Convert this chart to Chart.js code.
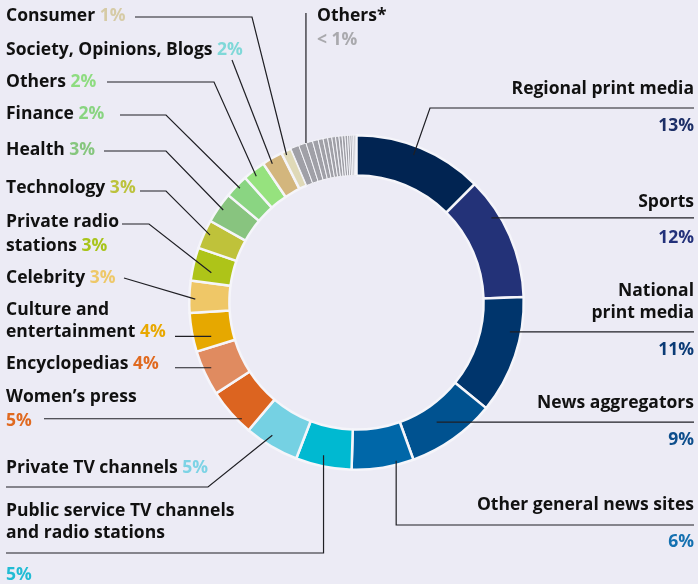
<!DOCTYPE html>
<html><head><meta charset="utf-8">
<script src="https://cdn.jsdelivr.net/npm/chart.js@4"></script>
<style>
html,body{margin:0;padding:0;background:#ecebf5;}
#wrap{width:698px;height:584px;position:relative;}
</style>
</head><body><div id="wrap"><canvas id="c"></canvas></div>
<script>
// ---- DATA ----
const categories = ["Regional print media","Sports","National print media","News aggregators","Other general news sites","Public service TV channels and radio stations","Private TV channels","Women’s press","Encyclopedias","Culture and entertainment","Celebrity","Private radio stations","Technology","Health","Finance","Others","Society, Opinions, Blogs","Consumer"];
const shares = [12.5, 12.0, 11.4, 8.6, 6.0, 5.4, 5.3, 4.7, 4.4, 3.75, 3.1, 3.2, 2.8, 3.0, 2.3, 2.2, 2.0, 1.0];
const percentLabels = ["13%","12%","11%","9%","6%","5%","5%","5%","4%","4%","3%","3%","3%","3%","2%","2%","2%","1%"];
const otherCategory = "Others*";
const otherShares = [0.8, 0.72, 0.65, 0.55, 0.48, 0.44, 0.4, 0.36, 0.33, 0.3, 0.28, 0.25, 0.22, 0.2, 0.17, 0.14, 0.12];
const otherLabel = "< 1%";

// ---- STYLE ----
const sliceColors = ["#012452","#233278","#00356c","#005290","#0067a8","#00b9d1","#75d1e3","#dc6420","#e08b60","#e6a800","#efc767","#aec418","#bfc23a","#88c47f","#8ad582","#96e27e","#d3b67d","#dfd9b7"];
const grayColor = "#a0a0a7";
const pctColors = ["#1c2e66","#23317a","#0b3b76","#0d4e8c","#1470b0","#22bcd4","#7dd3e5","#e06a20","#e06a20","#e8a800","#eec868","#a8c41a","#bcc23c","#86c67e","#88d480","#8edc80","#7fd8d8","#d6cba6"];
const otherPctColor = "#a9a9ad";
const TXT = "#111111";
const FONT = "bold 17.5px 'Open Sans'";

const allLabels = categories.concat(otherShares.map(() => otherCategory));
const allValues = shares.concat(otherShares);
const allColors = sliceColors.concat(otherShares.map(() => grayColor));
const borderWidths = shares.map(() => 2.5).concat(otherShares.map(() => 1));

// label layout: lines of text parts; leader: list of points (null = take anchor coord), anchor {i,t,rf}
const P = (i) => [percentLabels[i], pctColors[i]];
const annotations = [
  {lines:[{x:6,y:16,a:"left",parts:[["Consumer ",TXT],P(17)]}], pts:[[135,17],[252,17]], an:{i:17,t:0.36,rf:0.976}},
  {lines:[{x:317,y:16,a:"left",parts:[["Others*",TXT]]},{x:317,y:40,a:"left",parts:[[otherLabel,otherPctColor]]}], pts:[[null,13]], an:{i:19,t:1.0,rf:1.0}},
  {lines:[{x:6,y:50,a:"left",parts:[["Society, Opinions, Blogs ",TXT],P(16)]}], pts:[[232,60]], an:{i:16,t:0.36,rf:0.97}},
  {lines:[{x:6,y:82,a:"left",parts:[["Others ",TXT],P(15)]}], pts:[[107,82],[214,82]], an:{i:15,t:0.42,rf:0.964}},
  {lines:[{x:6,y:114,a:"left",parts:[["Finance ",TXT],P(14)]}], pts:[[120,115],[166,115]], an:{i:14,t:0.54,rf:0.976}},
  {lines:[{x:6,y:150,a:"left",parts:[["Health ",TXT],P(13)]}], pts:[[104,151],[166,151]], an:{i:13,t:0.52,rf:0.97}},
  {lines:[{x:6,y:188,a:"left",parts:[["Technology ",TXT],P(12)]}], pts:[[140,191],[166,191]], an:{i:12,t:0.56,rf:0.964}},
  {lines:[{x:6,y:222,a:"left",parts:[["Private radio",TXT]]},{x:6,y:246,a:"left",parts:[["stations ",TXT],P(11)]}], pts:[[122,224],[149,224]], an:{i:11,t:0.35,rf:0.886}},
  {lines:[{x:6,y:278,a:"left",parts:[["Celebrity ",TXT],P(10)]}], pts:[[124,278]], an:{i:10,t:0.43,rf:0.964}},
  {lines:[{x:6,y:310,a:"left",parts:[["Culture and",TXT]]},{x:6,y:332,a:"left",parts:[["entertainment ",TXT],P(9)]}], pts:[[175,null]], an:{i:9,t:0.29,rf:0.892}},
  {lines:[{x:6,y:364,a:"left",parts:[["Encyclopedias ",TXT],P(8)]}], pts:[[175,null]], an:{i:8,t:0.55,rf:0.952}},
  {lines:[{x:6,y:397,a:"left",parts:[["Women’s press",TXT]]},{x:6,y:421,a:"left",parts:[P(7)]}], pts:[[44,null]], an:{i:7,t:0.26,rf:0.976}},
  {lines:[{x:6,y:468,a:"left",parts:[["Private TV channels ",TXT],P(6)]}], pts:[[6,487],[208,487]], an:{i:6,t:0.59,rf:0.94}},
  {lines:[{x:6,y:511,a:"left",parts:[["Public service TV channels",TXT]]},{x:6,y:533,a:"left",parts:[["and radio stations",TXT]]},{x:6,y:575,a:"left",parts:[P(5)]}], pts:[[6,553],[null,553]], an:{i:5,t:0.54,rf:0.934}},
  {lines:[{x:694,y:89,a:"right",parts:[["Regional print media",TXT]]},{x:694,y:126,a:"right",parts:[P(0)]}], pts:[[694,108],[430,108]], an:{i:0,t:0.47,rf:0.946}},
  {lines:[{x:694,y:202,a:"right",parts:[["Sports",TXT]]},{x:694,y:238,a:"right",parts:[P(1)]}], pts:[[694,null]], an:{i:1,t:0.30,rf:0.952}},
  {lines:[{x:694,y:291,a:"right",parts:[["National",TXT]]},{x:694,y:313,a:"right",parts:[["print media",TXT]]},{x:694,y:350,a:"right",parts:[P(2)]}], pts:[[694,null]], an:{i:2,t:0.31,rf:0.934}},
  {lines:[{x:694,y:403,a:"right",parts:[["News aggregators",TXT]]},{x:694,y:440,a:"right",parts:[P(3)]}], pts:[[694,null]], an:{i:3,t:0.55,rf:0.861}},
  {lines:[{x:694,y:505,a:"right",parts:[["Other general news sites",TXT]]},{x:694,y:542,a:"right",parts:[P(4)]}], pts:[[694,525],[null,525]], an:{i:4,t:0.27,rf:0.976}}
];

const labelPlugin = {
  id: "leaderLabels",
  afterDraw(chart) {
    const ctx = chart.ctx;
    const meta = chart.getDatasetMeta(0);
    ctx.save();
    ctx.font = FONT;
    ctx.textBaseline = "middle";
    annotations.forEach(an => {
      const arc = meta.data[an.an.i];
      const p = arc.getProps(["x","y","startAngle","endAngle","outerRadius","innerRadius"], true);
      const ang = p.startAngle + (p.endAngle - p.startAngle) * an.an.t;
      const r = p.outerRadius * an.an.rf;
      const ax = p.x + r * Math.cos(ang), ay = p.y + r * Math.sin(ang);
      ctx.beginPath();
      an.pts.forEach((pt, k) => {
        const x = pt[0] === null ? ax : pt[0];
        const y = pt[1] === null ? ay : pt[1];
        if (k === 0) ctx.moveTo(x, y); else ctx.lineTo(x, y);
      });
      ctx.lineTo(ax, ay);
      ctx.strokeStyle = "#1f1f24";
      ctx.lineWidth = 1.2;
      ctx.stroke();
      an.lines.forEach(ln => {
        const total = ln.parts.reduce((s, pt) => s + ctx.measureText(pt[0]).width, 0);
        let x = ln.a === "right" ? ln.x - total : ln.x;
        ln.parts.forEach(pt => {
          ctx.fillStyle = pt[1];
          ctx.textAlign = "left";
          ctx.fillText(pt[0], x, ln.y);
          x += ctx.measureText(pt[0]).width;
        });
      });
    });
    ctx.restore();
  }
};

new Chart(document.getElementById("c"), {
  type: "doughnut",
  data: {
    labels: allLabels,
    datasets: [{
      data: allValues,
      backgroundColor: allColors,
      borderColor: "#f5f5fa",
      borderWidth: borderWidths,
      hoverOffset: 0
    }]
  },
  options: {
    responsive: true,
    maintainAspectRatio: false,
    animation: false,
    cutout: "76%",
    layout: { padding: { left: 188, right: 173, top: 134, bottom: 113 } },
    plugins: { legend: { display: false }, tooltip: { enabled: false } }
  },
  plugins: [labelPlugin]
});
</script>
</body></html>
